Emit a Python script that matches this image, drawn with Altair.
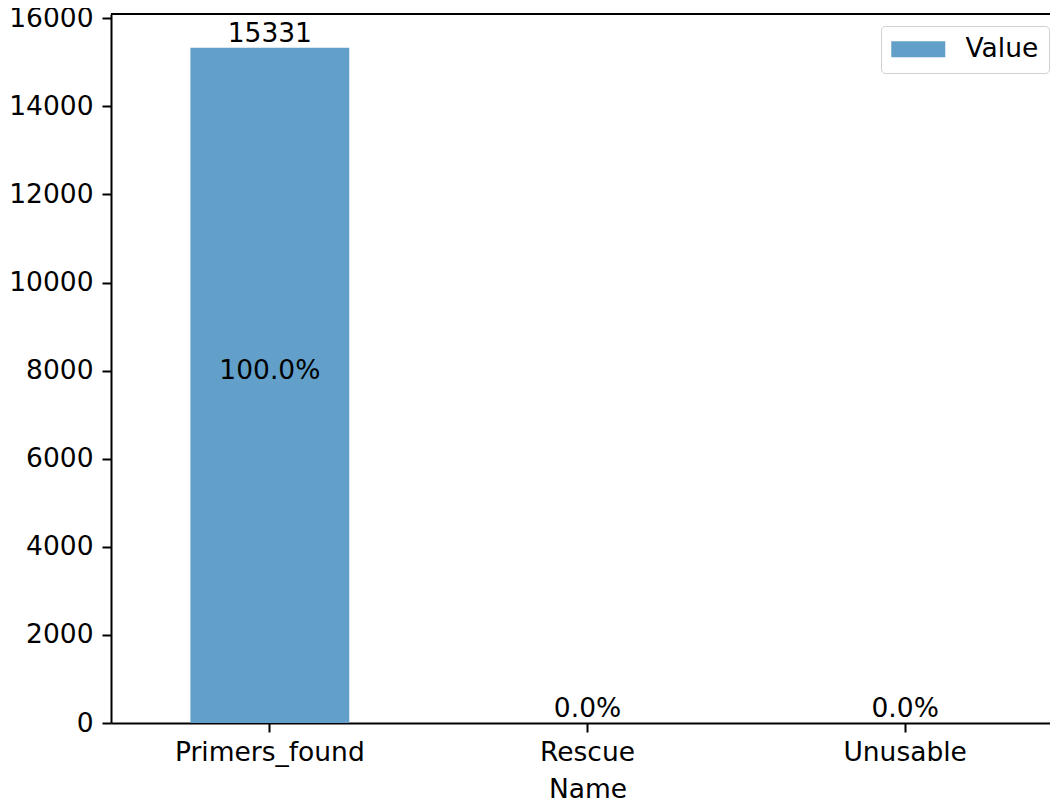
import altair as alt
import pandas as pd

names = ["Primers_found", "Rescue", "Unusable"]
values = [15331, 0, 0]
percent_labels = ["100.0%", "0.0%", "0.0%"]
series_name = ["Value", "Value", "Value"]
y_ticks = [0, 2000, 4000, 6000, 8000, 10000, 12000, 14000, 16000]

df = pd.DataFrame({"Name": names, "Value": values, "Pct": percent_labels, "Series": series_name})

FONT = "DejaVu Sans"
FS = 26.5
BAR = "#62a0ca"
YMAX = 15331 * 1.05
W = 939          # visible plot width (right spine is cropped off in the reference)
FULL_W = 953     # full axis width in the reference
H = 709

x_scale = alt.Scale(paddingInner=0.5, paddingOuter=0.25, range=[0, FULL_W])
y_scale = alt.Scale(domain=[0, YMAX], nice=False, zero=True)

x_enc = alt.X(
    "Name:N",
    sort=names,
    scale=x_scale,
    axis=alt.Axis(
        title="Name", labelAngle=0, labelFontSize=FS, titleFontSize=FS,
        labelFont=FONT, titleFont=FONT, titleFontWeight="normal",
        labelColor="black", titleColor="black", labelLimit=1000,
        domainColor="black", domainWidth=2, tickColor="black", tickWidth=2,
        tickSize=9, labelPadding=7, titlePadding=11, grid=False,
    ),
)

bars = alt.Chart(df).mark_bar(opacity=1).encode(
    x=x_enc,
    y=alt.Y(
        "Value:Q",
        scale=y_scale,
        axis=alt.Axis(
            title=None, values=y_ticks, format="d", labelFontSize=FS, labelFont=FONT,
            labelColor="black", domainColor="black", domainWidth=2,
            tickColor="black", tickWidth=2, tickSize=9, labelPadding=9,
            grid=False,
        ),
    ),
    color=alt.Color(
        "Series:N",
        scale=alt.Scale(domain=["Value"], range=[BAR]),
        legend=alt.Legend(
            title=None, orient="none", legendX=770, legendY=12,
            symbolType="M-3.375,-1H3.375V1H-3.375Z", symbolSize=256,
            symbolStrokeWidth=0, symbolOpacity=1, symbolOffset=14,
            labelFontSize=FS, labelFont=FONT, labelColor="black",
            labelOffset=34, padding=10, strokeColor="#d0d0d0",
            fillColor="white", cornerRadius=4,
        ),
    ),
)

count_text = alt.Chart(df).transform_filter("datum.Value > 0").mark_text(
    baseline="bottom", align="center", fontSize=FS, font=FONT, color="black"
).encode(
    x=alt.X("Name:N", sort=names),
    y=alt.Y("Value:Q", scale=y_scale),
    text=alt.Text("Value:Q", format="d"),
)

pct_text = alt.Chart(df).transform_calculate(half="datum.Value / 2").mark_text(
    baseline="bottom", align="center", fontSize=FS, font=FONT, color="black"
).encode(
    x=alt.X("Name:N", sort=names),
    y=alt.Y("half:Q", scale=y_scale),
    text="Pct:N",
)

top_spine = alt.Chart(df).mark_rule(color="black", strokeWidth=2).encode(
    x=alt.value(0), x2=alt.value(W), y=alt.value(0)
)

chart = alt.layer(bars, count_text, pct_text, top_spine).properties(
    width=W,
    height=H,
    autosize=alt.AutoSizeParams(type="none"),
    padding={"left": 103, "top": 6, "right": 0, "bottom": 80},
    background="white",
).configure_view(stroke=None)

chart.save("out.html", embed_options={"renderer": "svg", "actions": False})
